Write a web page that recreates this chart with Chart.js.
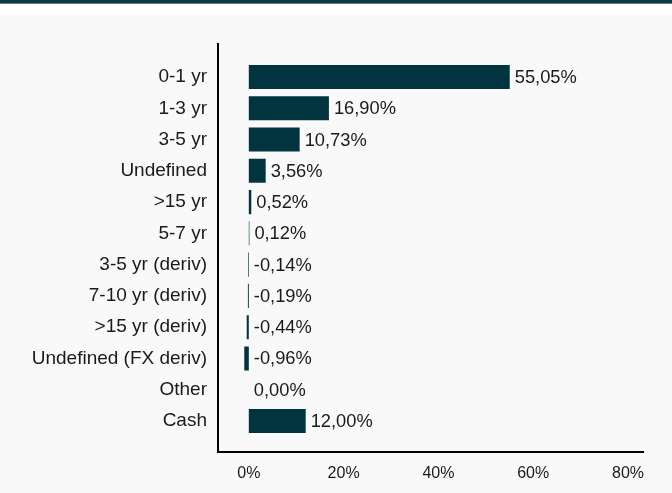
<!DOCTYPE html>
<html>
<head>
<meta charset="utf-8">
<script src="https://cdn.jsdelivr.net/npm/chart.js@4"></script>
<style>
  html, body { margin: 0; padding: 0; }
  body { width: 672px; height: 493px; position: relative; background: #fff; overflow: hidden; }
  #topbar { position: absolute; left: 0; top: 0; width: 672px; height: 3px; background: #0d3b45; }
  #topline { position: absolute; left: 0; top: 3px; width: 672px; height: 1px; background: #5d7f86; }
  #panel { position: absolute; left: 0; top: 15px; width: 672px; height: 478px; background: #f9f9f9; }
  #wrap { position: absolute; left: 0; top: 0; width: 672px; height: 493px; }
</style>
</head>
<body>
<div id="topbar"></div>
<div id="topline"></div>
<div id="panel"></div>
<div id="wrap"><canvas id="chart"></canvas></div>
<script>
// ── data ──
const categories = ['0-1 yr', '1-3 yr', '3-5 yr', 'Undefined', '>15 yr', '5-7 yr',
    '3-5 yr (deriv)', '7-10 yr (deriv)', '>15 yr (deriv)', 'Undefined (FX deriv)', 'Other', 'Cash'];
const weights = [55.05, 16.90, 10.73, 3.56, 0.52, 0.12, -0.14, -0.19, -0.44, -0.96, 0.00, 12.00];
const xTicks = [0, 20, 40, 60, 80];

const BAR = '#02343f';
const TEXT = '#1a1a1a';
const FONT = "'Liberation Sans', Arial, sans-serif";

const fmt = v => v.toFixed(2).replace('.', ',') + '%';

// value labels right of bar end
const valueLabels = {
    id: 'valueLabels',
    afterDatasetsDraw(chart) {
        const { ctx, scales: { x } } = chart;
        const meta = chart.getDatasetMeta(0);
        ctx.save();
        ctx.font = '18.3px ' + FONT;
        ctx.fillStyle = TEXT;
        ctx.textAlign = 'left';
        ctx.textBaseline = 'middle';
        meta.data.forEach((bar, i) => {
            const v = weights[i];
            const px = x.getPixelForValue(Math.max(v, 0));
            ctx.fillText(fmt(v), px + 5, bar.y + 1);
        });
        ctx.restore();
    }
};

// axis lines run a bit past the plot area
const axisLines = {
    id: 'axisLines',
    afterDraw(chart) {
        const { ctx, chartArea: a } = chart;
        ctx.save();
        ctx.strokeStyle = '#000';
        ctx.lineWidth = 2;
        ctx.beginPath();
        ctx.moveTo(a.left, a.top - 18.4);
        ctx.lineTo(a.left, a.bottom + 15.4);
        ctx.lineTo(a.right, a.bottom + 15.4);
        ctx.stroke();
        ctx.restore();
    }
};

new Chart(document.getElementById('chart'), {
    type: 'bar',
    data: {
        labels: categories,
        datasets: [{
            data: weights,
            backgroundColor: BAR,
            borderWidth: 0,
            barPercentage: 0.77,
            categoryPercentage: 1,
        }]
    },
    options: {
        indexAxis: 'y',
        responsive: true,
        maintainAspectRatio: false,
        animation: false,
        layout: { padding: { top: 61.4, right: 26, bottom: 0, left: 0 } },
        plugins: {
            legend: { display: false },
            tooltip: { enabled: false }
        },
        scales: {
            x: {
                min: -6.5,
                max: 83.4,
                afterBuildTicks: s => { s.ticks = xTicks.map(v => ({ value: v })); },
                afterFit: s => { s.height = 56.4; },
                grid: { display: false, drawTicks: false },
                border: { display: false },
                ticks: {
                    color: TEXT,
                    padding: 27,
                    font: { family: FONT, size: 16 },
                    callback: v => v + '%'
                }
            },
            y: {
                afterFit: s => { s.width = 218; },
                grid: { display: false, drawTicks: false },
                border: { display: false },
                ticks: {
                    color: TEXT,
                    padding: 11,
                    font: { family: FONT, size: 19 }
                }
            }
        }
    },
    plugins: [valueLabels, axisLines]
});
</script>
</body>
</html>
